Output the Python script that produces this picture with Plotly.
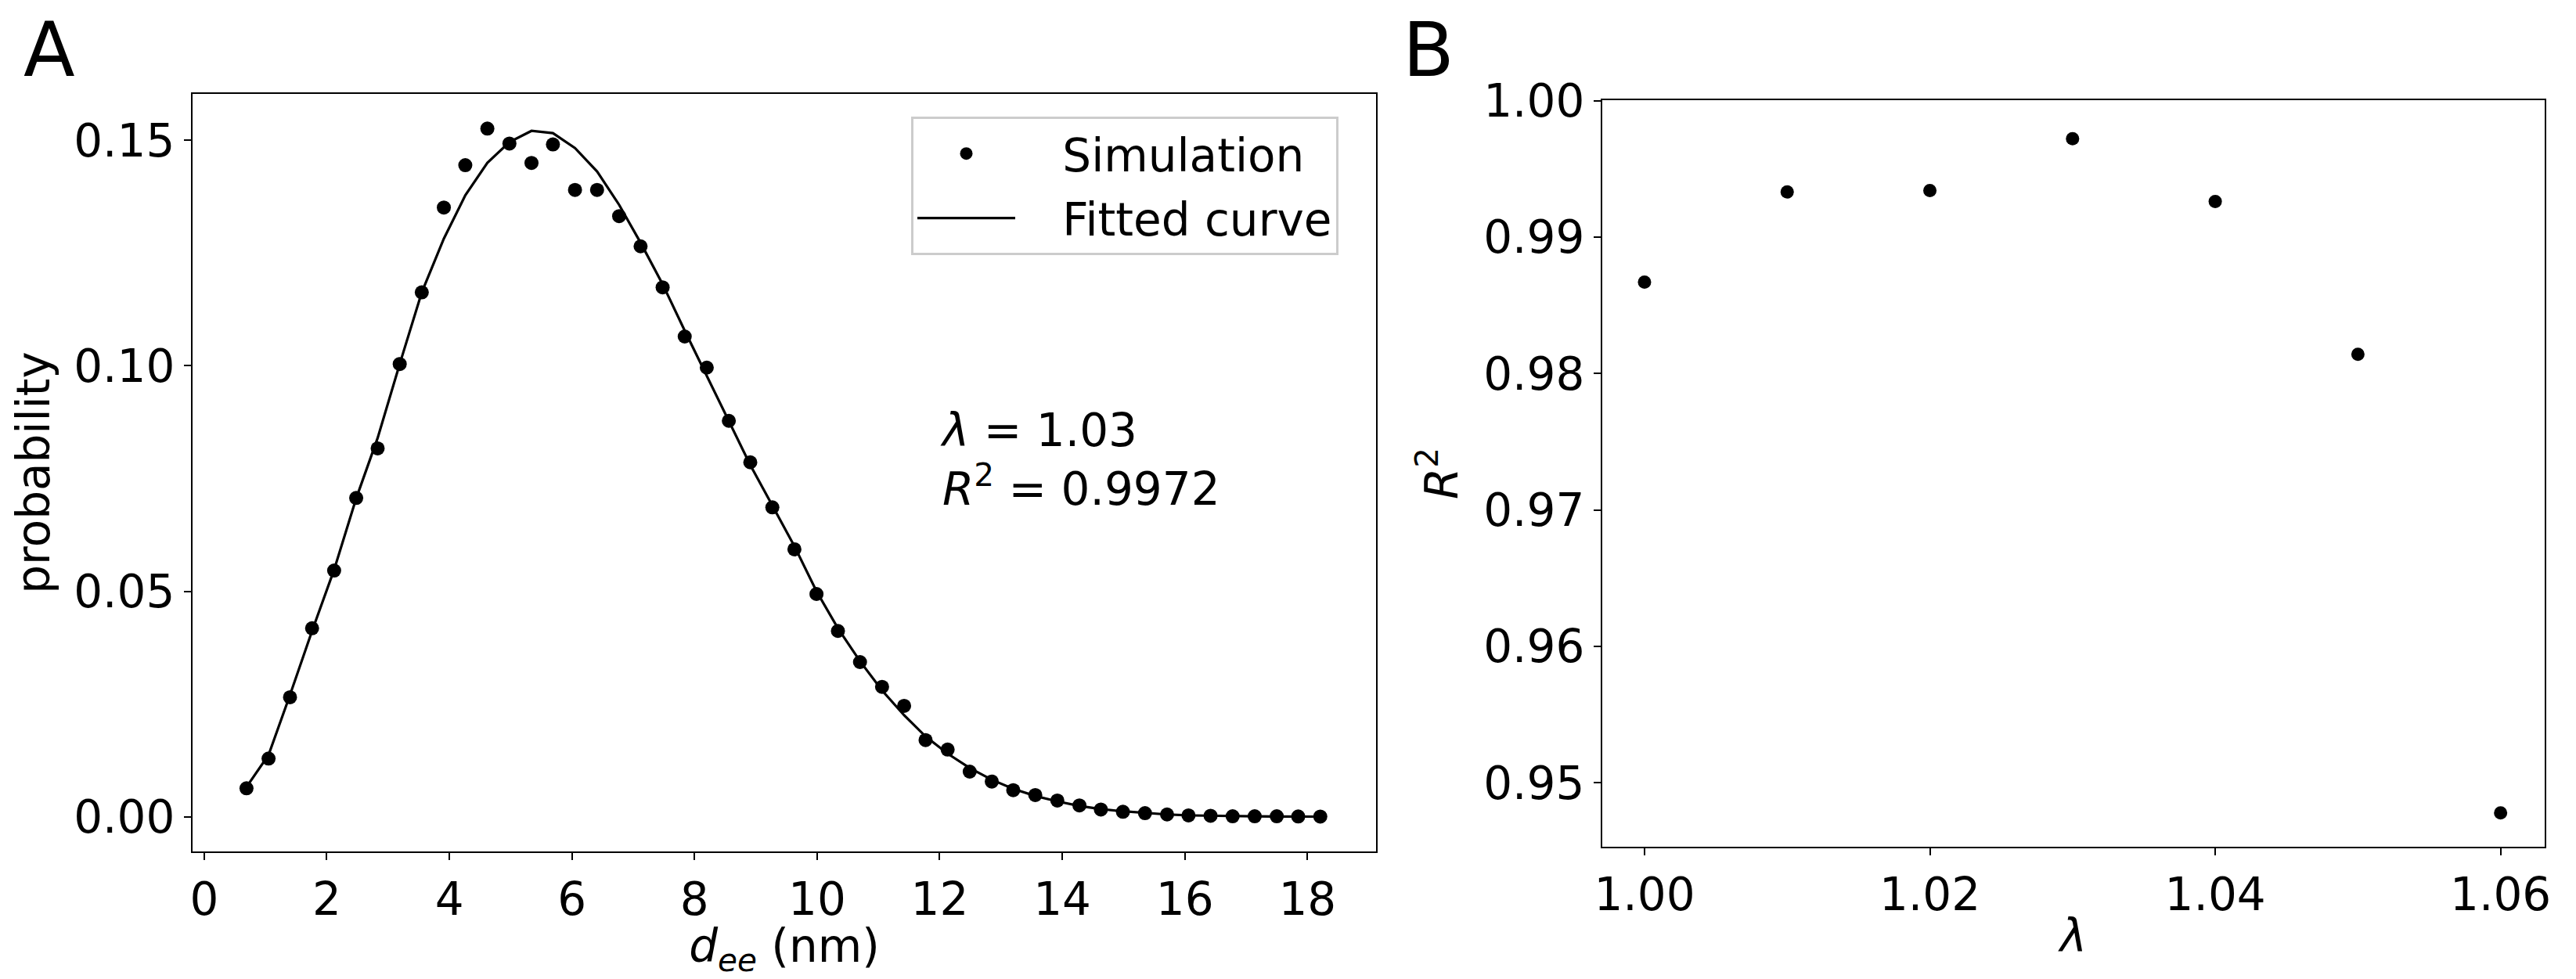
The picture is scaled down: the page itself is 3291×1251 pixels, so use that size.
import plotly.graph_objects as go

# ---- Panel A data ----
d_ee = [0.69, 1.05, 1.40, 1.76, 2.12, 2.48, 2.83, 3.19, 3.55, 3.91,
        4.26, 4.62, 4.98, 5.34, 5.69, 6.05, 6.41, 6.77, 7.12, 7.48,
        7.84, 8.20, 8.56, 8.91, 9.27, 9.63, 9.99, 10.34, 10.70, 11.06,
        11.42, 11.77, 12.13, 12.49, 12.85, 13.20, 13.56, 13.92, 14.28, 14.63,
        14.99, 15.35, 15.71, 16.06, 16.42, 16.78, 17.14, 17.50, 17.85, 18.21]

sim_prob = [0.0063, 0.0129, 0.0265, 0.0418, 0.0546, 0.0707, 0.0817, 0.1004, 0.1163, 0.1351,
            0.1445, 0.1526, 0.1493, 0.1450, 0.1491, 0.1390, 0.1390, 0.1332, 0.1265, 0.1174,
            0.1065, 0.0996, 0.0878, 0.0786, 0.0686, 0.0593, 0.0494, 0.0412, 0.0343, 0.0288,
            0.0246, 0.0170, 0.0149, 0.0100, 0.0078, 0.0059, 0.0048, 0.0036, 0.0025, 0.0016,
            0.0011, 0.0008, 0.0005, 0.0003, 0.0002, 0.0001, 0.0001, 0.0001, 0.00005, 0.00003]

fit_prob = [0.0066, 0.0137, 0.0270, 0.0412, 0.0548, 0.0706, 0.0840, 0.1004, 0.1163, 0.1282,
            0.1378, 0.1450, 0.1496, 0.1521, 0.1516, 0.1483, 0.1431, 0.1357, 0.1273, 0.1181,
            0.1078, 0.0978, 0.0876, 0.0780, 0.0690, 0.0600, 0.0500, 0.0418, 0.0345, 0.0280,
            0.0225, 0.0178, 0.0140, 0.0108, 0.0082, 0.0062, 0.0046, 0.0034, 0.0024, 0.0017,
            0.0012, 0.0008, 0.0005, 0.0003, 0.0002, 0.0001, 0.0001, 0.00005, 0.00003, 0.00002]

# ---- Panel B data ----
lambdas = [1.00, 1.01, 1.02, 1.03, 1.04, 1.05, 1.06]
r2 = [0.9867, 0.9933, 0.9934, 0.9972, 0.9926, 0.9814, 0.9478]

xticks_a = [0, 2, 4, 6, 8, 10, 12, 14, 16, 18]
yticks_a = [0.00, 0.05, 0.10, 0.15]
xticks_b = [1.00, 1.02, 1.04, 1.06]
yticks_b = [0.95, 0.96, 0.97, 0.98, 0.99, 1.00]

W, H = 3291, 1251
FONT = "DejaVu Sans"
FS = 58
GAP = "\u00a0\u00a0\u00a0"

fig = go.Figure()

fig.add_trace(go.Scatter(
    x=d_ee, y=sim_prob, mode="markers", name=GAP + "Simulation",
    marker=dict(color="black", size=18), xaxis="x", yaxis="y",
    legendgroup="a"))
fig.add_trace(go.Scatter(
    x=d_ee, y=fit_prob, mode="lines", name=GAP + "Fitted curve",
    line=dict(color="black", width=3.2), xaxis="x", yaxis="y",
    legendgroup="b"))
fig.add_trace(go.Scatter(
    x=lambdas, y=r2, mode="markers", name="R2",
    marker=dict(color="black", size=17), xaxis="x2", yaxis="y2",
    showlegend=False))

def px_x(p):
    return p / W

def px_y(p):
    return 1 - p / H

axis_common = dict(
    showline=True, linecolor="black", linewidth=2.2, mirror=True,
    ticks="outside", ticklen=9, tickwidth=2.2, tickcolor="black",
    showgrid=False, zeroline=False, automargin=False,
    tickfont=dict(family=FONT, size=FS, color="black"),
)

fig.update_layout(
    template="none",
    width=W, height=H,
    margin=dict(l=0, r=0, t=0, b=0, autoexpand=False),
    paper_bgcolor="white", plot_bgcolor="white",
    font=dict(family=FONT, size=FS, color="black"),
    xaxis=dict(domain=[px_x(246), px_x(1758)], range=[-0.19, 19.12],
               tickvals=xticks_a, anchor="y",
               title=dict(text="<i>d</i><sub><i>ee</i></sub> (nm)",
                          font=dict(family=FONT, size=FS), standoff=0),
               **axis_common),
    yaxis=dict(domain=[px_y(1088), px_y(120)], range=[-0.0077, 0.1603],
               tickvals=yticks_a, tickformat=".2f", anchor="x",
               title=dict(text="probability",
                          font=dict(family=FONT, size=FS), standoff=12),
               **axis_common),
    xaxis2=dict(domain=[px_x(2047), px_x(3251)], range=[0.99704, 1.06309],
                tickvals=xticks_b, tickformat=".2f", anchor="y2",
                title=dict(text="<i>λ</i>",
                           font=dict(family=FONT, size=FS), standoff=0),
                **axis_common),
    yaxis2=dict(domain=[px_y(1082), px_y(128)], range=[0.94532, 1.00003],
                tickvals=yticks_b, tickformat=".2f", anchor="x2",
                title=dict(text="<i>R</i><sup>2</sup>",
                           font=dict(family=FONT, size=FS), standoff=14),
                **axis_common),
    legend=dict(
        x=px_x(1164), y=px_y(149), xanchor="left", yanchor="top",
        bgcolor="rgba(255,255,255,0.8)", bordercolor="#cccccc", borderwidth=3,
        font=dict(family=FONT, size=FS, color="black"),
        itemwidth=125, tracegroupgap=4,
    ),
    showlegend=True,
)

fig.add_annotation(
    x=11.98, y=0.0791, xref="x", yref="y", xanchor="left", yanchor="middle",
    text="<i>λ</i> = 1.03<br><i>R</i><sup>2</sup> = 0.9972", showarrow=False,
    align="left", font=dict(family=FONT, size=FS, color="black"))

fig.add_annotation(
    x=px_x(28), y=px_y(64), xref="paper", yref="paper", xanchor="left",
    yanchor="middle", text="A", showarrow=False,
    font=dict(family=FONT, size=96, color="black"))
fig.add_annotation(
    x=px_x(1790), y=px_y(64), xref="paper", yref="paper", xanchor="left",
    yanchor="middle", text="B", showarrow=False,
    font=dict(family=FONT, size=96, color="black"))

fig.write_html("out.html")
